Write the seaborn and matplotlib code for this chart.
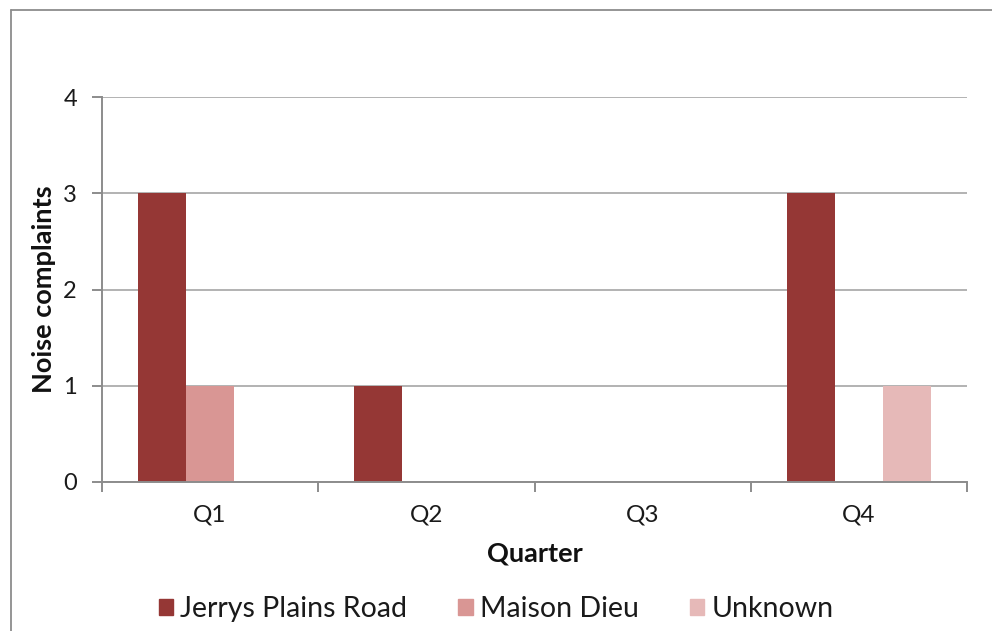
import matplotlib
matplotlib.use("Agg")
import matplotlib.pyplot as plt
from matplotlib.lines import Line2D
import pandas as pd
import seaborn as sns

quarters = ["Q1", "Q2", "Q3", "Q4"]
jerrys_plains_road = [3, 1, 0, 3]
maison_dieu = [1, 0, 0, 0]
unknown = [0, 0, 0, 1]
series_names = ["Jerrys Plains Road", "Maison Dieu", "Unknown"]
series_colors = ["#953735", "#D99694", "#E6B9B8"]
y_ticks = [0, 1, 2, 3, 4]

rows = []
for name, vals in zip(series_names, [jerrys_plains_road, maison_dieu, unknown]):
    for q, v in zip(quarters, vals):
        rows.append({"Quarter": q, "Location": name, "Complaints": v})
df = pd.DataFrame(rows)

sns.set_theme(style="white")
plt.rcParams["font.family"] = ["Lato", "DejaVu Sans"]

fig = plt.figure(figsize=(9.92, 6.31), dpi=100)
ax = fig.add_axes([102 / 992, 1 - 482 / 631, 865 / 992, 385 / 631])

sns.barplot(data=df, x="Quarter", y="Complaints", hue="Location",
            order=quarters, hue_order=series_names,
            palette=series_colors, width=2 / 3, gap=0,
            saturation=1, linewidth=0, ax=ax, legend=False)

axis_gray = "#8C8C8C"
ax.set_ylim(0, 4)
ax.set_xlim(-0.5, 3.5)
ax.set_yticks(y_ticks)
ax.set_yticklabels([str(t) for t in y_ticks])
ax.yaxis.grid(True, color="#A6A6A6", linewidth=1.2)
ax.set_axisbelow(True)

for side in ["top", "right"]:
    ax.spines[side].set_visible(False)
for side in ["left", "bottom"]:
    ax.spines[side].set_color(axis_gray)
    ax.spines[side].set_linewidth(1.4)

# category labels sit between boundary tick marks
ax.set_xticks([0, 1, 2, 3])
ax.set_xticklabels(quarters)
ax.set_xticks([-0.5, 0.5, 1.5, 2.5, 3.5], minor=True)
ax.tick_params(axis="x", which="major", length=0, pad=16, labelsize=17.5, labelcolor="#1a1a1a")
ax.tick_params(axis="x", which="minor", length=7, width=1.4, color=axis_gray, direction="out")
ax.tick_params(axis="y", length=7, width=1.4, color=axis_gray, direction="out",
               pad=11, labelsize=17, labelcolor="#1a1a1a")
ax.tick_params(bottom=True, left=True, which="both")

ax.set_xlabel("Quarter", fontsize=19.5, fontweight="bold", labelpad=12, color="#111111")
ax.set_ylabel("Noise complaints", fontsize=19.5, fontweight="bold", labelpad=5, color="#111111")

handles = [plt.Rectangle((0, 0), 1, 1, color=c) for c in series_colors]
fig.legend(handles, series_names, loc="center", bbox_to_anchor=(0.5, 1 - 609 / 631),
           ncol=3, frameon=False, fontsize=20.5, handlelength=0.5, handleheight=0.5,
           handletextpad=0.25, columnspacing=1.8, labelcolor="#1a1a1a")

# chart-area border
fig.add_artist(Line2D([10.5 / 992, 10.5 / 992], [0, 1 - 9.5 / 631], transform=fig.transFigure,
                      color="#8C8C8C", linewidth=1.3))
fig.add_artist(Line2D([10.5 / 992, 1], [1 - 9.5 / 631, 1 - 9.5 / 631], transform=fig.transFigure,
                      color="#8C8C8C", linewidth=1.3))

fig.savefig("out.png", dpi=100)
